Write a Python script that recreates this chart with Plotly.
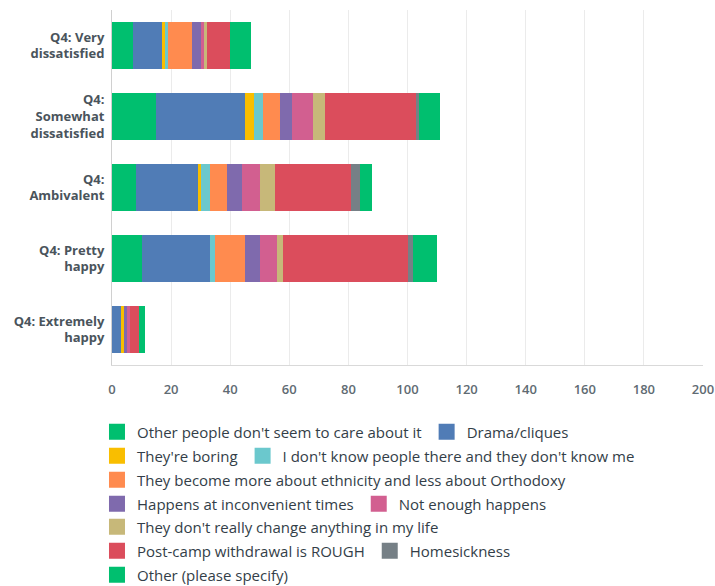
import plotly.graph_objects as go

categories = ["Q4: Very<br>dissatisfied", "Q4:<br>Somewhat<br>dissatisfied", "Q4:<br>Ambivalent",
              "Q4: Pretty<br>happy", "Q4: Extremely<br>happy"]

series_names = [
    "Other people don't seem to care about it",
    "Drama/cliques",
    "They're boring",
    "I don't know people there and they don't know me",
    "They become more about ethnicity and less about Orthodoxy",
    "Happens at inconvenient times",
    "Not enough happens",
    "They don't really change anything in my life",
    "Post-camp withdrawal is ROUGH",
    "Homesickness",
    "Other (please specify)",
]

other_people = [7, 15, 8, 10, 0]
drama = [10, 30, 21, 23, 3]
boring = [1, 3, 1, 0, 1]
dont_know = [1, 3, 3, 2, 0]
ethnicity = [8, 6, 6, 10, 0]
inconvenient = [3, 4, 5, 5, 1]
not_enough = [1, 7, 6, 6, 1]
no_change = [1, 4, 5, 2, 0]
withdrawal = [8, 31, 26, 42, 3]
homesick = [0, 1, 3, 2, 0]
other_specify = [7, 7, 4, 8, 2]

series_values = [other_people, drama, boring, dont_know, ethnicity, inconvenient,
                 not_enough, no_change, withdrawal, homesick, other_specify]

colors = ["#00BF6F", "#507CB6", "#F9BE00", "#6BC8CD", "#FF8B4F", "#7F6AAD",
          "#D25F90", "#C7B879", "#DB4D5C", "#768086", "#00BF6F"]

x_ticks = [0, 20, 40, 60, 80, 100, 120, 140, 160, 180, 200]

# legend row (1..7) in which each series appears, as in the reference layout
legend_rows = [1, 1, 2, 2, 3, 4, 4, 5, 6, 6, 7]

fig = go.Figure()
for name, vals, col in zip(series_names, series_values, colors):
    fig.add_trace(go.Bar(
        y=categories, x=vals, orientation="h", name=name,
        marker=dict(color=col, line=dict(width=0)),
        showlegend=False, hoverinfo="x+name",
    ))
for name, col, row in zip(series_names, colors, legend_rows):
    fig.add_trace(go.Scatter(
        x=[None], y=[None], mode="markers", name=name,
        marker=dict(symbol="square", size=16, color=col),
        showlegend=True, legend="legend" if row == 1 else f"legend{row}",
    ))

plot_bottom_px = 365
plot_h_px = 355
row_centers_px = [432, 456, 480, 504, 527, 551, 575]

legends = {}
for i, py in enumerate(row_centers_px, start=1):
    key = "legend" if i == 1 else f"legend{i}"
    legends[key] = dict(
        orientation="h", x=-0.0254, xanchor="left",
        y=(plot_bottom_px - py) / plot_h_px, yanchor="middle",
        font=dict(size=15, color="#333e48", family="Open Sans"),
        itemclick=False, itemdoubleclick=False, traceorder="normal",
        bgcolor="rgba(0,0,0,0)",
    )

fig.update_layout(
    width=715, height=586,
    barmode="stack", bargap=0.34,
    plot_bgcolor="white", paper_bgcolor="white",
    margin=dict(l=112, r=12, t=10, b=221, autoexpand=False),
    font=dict(family="Open Sans", color="#333e48"),
    xaxis=dict(range=[0, 200], tickvals=x_ticks, showgrid=True, gridcolor="#ebebeb",
               gridwidth=1, zeroline=False, showline=True, linecolor="#d9d9d9",
               linewidth=1, ticks="", ticklabelstandoff=12,
               tickfont=dict(size=13, color="#5f6b73", family="Open Sans", weight=600),
               fixedrange=True),
    yaxis=dict(autorange="reversed", showline=True, linecolor="#d0d0d0", linewidth=1,
               ticks="", ticklabelstandoff=4,
               tickfont=dict(size=13, color="#4a545c", family="Open Sans", weight="bold"),
               fixedrange=True),
    **legends,
)

fig.write_html("out.html", config={"displayModeBar": False},
               post_script="document.body.style.margin='0';")
